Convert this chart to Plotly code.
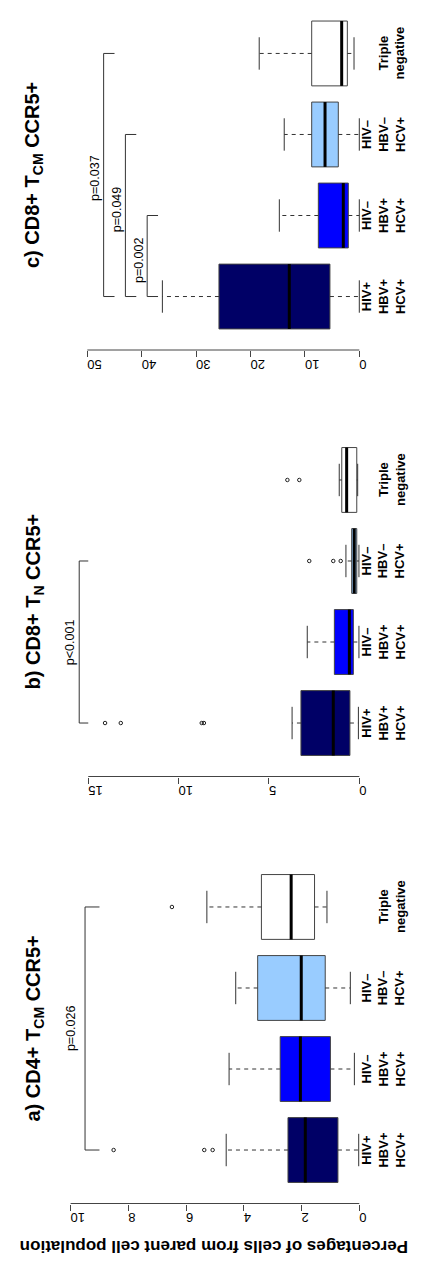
import plotly.graph_objects as go

# ---------------- data ----------------
categories = ["HIV+<br>HBV+<br>HCV+", "HIV–<br>HBV+<br>HCV+", "HIV–<br>HBV–<br>HCV+", "Triple<br>negative"]
cat_pos = [1, 2, 3, 4]
box_colors = ["#000066", "#0000FF", "#99CCFF", "#FFFFFF"]
y_axis_title = "Percentages of cells from parent cell population"

# panel a
a_title = "a) CD4+ T<sub>CM</sub> CCR5+"
a_q1 = [0.74, 1.00, 1.18, 1.55]
a_med = [1.87, 2.04, 2.01, 2.36]
a_q3 = [2.47, 2.74, 3.52, 3.39]
a_low = [0.02, 0.17, 0.31, 1.12]
a_high = [4.61, 4.51, 4.28, 5.28]
a_out_cat = [1, 1, 1, 4]
a_out_val = [5.08, 5.37, 8.51, 6.49]
a_ticks = [0, 2, 4, 6, 8, 10]
a_br_from = [1]
a_br_to = [4]
a_br_tip = [9.0]
a_br_level = [9.5]
a_p_text = ["p=0.026"]
a_p_val = [10.0]
a_p_pos = [2.5]

# panel b
b_title = "b) CD8+ T<sub>N</sub> CCR5+"
b_q1 = [0.52, 0.33, 0.14, 0.14]
b_med = [1.44, 0.55, 0.28, 0.70]
b_q3 = [3.23, 1.38, 0.42, 0.97]
b_low = [0.05, 0.02, 0.02, 0.09]
b_high = [3.72, 2.88, 0.74, 1.11]
b_out_cat = [1, 1, 1, 1, 3, 3, 3, 4, 4]
b_out_val = [14.07, 13.2, 8.72, 8.6, 2.77, 1.44, 1.03, 3.98, 3.32]
b_ticks = [0, 5, 10, 15]
b_br_from = [1]
b_br_to = [3]
b_br_tip = [15.0]
b_br_level = [15.5]
b_p_text = ["p<0.001"]
b_p_val = [16.0]
b_p_pos = [2.0]

# panel c
c_title = "c) CD8+ T<sub>CM</sub> CCR5+"
c_q1 = [5.4, 2.02, 3.86, 2.2]
c_med = [12.87, 2.94, 6.3, 3.24]
c_q3 = [25.8, 7.53, 8.75, 8.75]
c_low = [0.0, 0.0, 0.0, 0.97]
c_high = [36.2, 14.7, 13.8, 18.4]
c_out_cat = []
c_out_val = []
c_ticks = [0, 10, 20, 30, 40, 50]
c_br_from = [1, 1, 1]
c_br_to = [2, 3, 4]
c_br_tip = [37.0, 41.0, 45.0]
c_br_level = [39.0, 43.0, 47.0]
c_p_text = ["p=0.002", "p=0.049", "p=0.037"]
c_p_val = [40.5, 44.5, 48.5]
c_p_pos = [1.45, 2.08, 2.47]

# ---------------- layout helpers ----------------
# the page body has an 8px margin; positions below are page pixels
OFF = 8
W, H = 406, 1248
FONT = "Liberation Sans, Arial, sans-serif"


def px_x(px):
    return (px - OFF) / W


def px_y(py):
    return 1 - (py - OFF) / H


x_dom = [px_x(40), px_x(370)]
panels = [
    dict(title=a_title, q1=a_q1, med=a_med, q3=a_q3, low=a_low, high=a_high,
         out_cat=a_out_cat, out_val=a_out_val, ticks=a_ticks,
         br_from=a_br_from, br_to=a_br_to, br_tip=a_br_tip, br_level=a_br_level,
         p_text=a_p_text, p_val=a_p_val, p_pos=a_p_pos,
         top=853.5, bottom=1203.5, yr=[0.34, 4.66], rng=[11.06, -0.371]),
    dict(title=b_title, q1=b_q1, med=b_med, q3=b_q3, low=b_low, high=b_high,
         out_cat=b_out_cat, out_val=b_out_val, ticks=b_ticks,
         br_from=b_br_from, br_to=b_br_to, br_tip=b_br_tip, br_level=b_br_level,
         p_text=b_p_text, p_val=b_p_val, p_pos=b_p_pos,
         top=426.5, bottom=776.5, yr=[0.34, 4.66], rng=[17.67, -0.592]),
    dict(title=c_title, q1=c_q1, med=c_med, q3=c_q3, low=c_low, high=c_high,
         out_cat=c_out_cat, out_val=c_out_val, ticks=c_ticks,
         br_from=c_br_from, br_to=c_br_to, br_tip=c_br_tip, br_level=c_br_level,
         p_text=c_p_text, p_val=c_p_val, p_pos=c_p_pos,
         top=8.0, bottom=350.0, yr=[0.34, 4.561], rng=[58.7, -1.967]),
]

fig = go.Figure()
annotations = []
shapes = []
layout = {}
half_box = 0.4
half_cap = 0.2

for i, p in enumerate(panels):
    n = "" if i == 0 else str(i + 1)
    xa, ya = "x" + n, "y" + n
    # boxes
    for k, c in enumerate(cat_pos):
        fig.add_trace(go.Box(
            y=[c], q1=[p["q1"][k]], median=[p["med"][k]], q3=[p["q3"][k]],
            lowerfence=[p["q1"][k]], upperfence=[p["q3"][k]],
            orientation="h", width=2 * half_box, whiskerwidth=0,
            fillcolor=box_colors[k], line=dict(color="#444444", width=1),
            boxpoints=False, hoverinfo="skip", showlegend=False,
            xaxis=xa, yaxis=ya))
    # medians
    mx, my = [], []
    for k, c in enumerate(cat_pos):
        mx += [p["med"][k], p["med"][k], None]
        my += [c - half_box, c + half_box, None]
    fig.add_trace(go.Scatter(x=mx, y=my, mode="lines", line=dict(color="black", width=3),
                             hoverinfo="skip", showlegend=False, xaxis=xa, yaxis=ya))
    # whiskers (dashed)
    wx, wy = [], []
    for k, c in enumerate(cat_pos):
        wx += [p["q3"][k], p["high"][k], None, p["q1"][k], p["low"][k], None]
        wy += [c, c, None, c, c, None]
    fig.add_trace(go.Scatter(x=wx, y=wy, mode="lines",
                             line=dict(color="#333333", width=1, dash="4px,4px"),
                             hoverinfo="skip", showlegend=False, xaxis=xa, yaxis=ya))
    # caps
    cx, cy = [], []
    for k, c in enumerate(cat_pos):
        for v in (p["high"][k], p["low"][k]):
            cx += [v, v, None]
            cy += [c - half_cap, c + half_cap, None]
    fig.add_trace(go.Scatter(x=cx, y=cy, mode="lines", line=dict(color="#333333", width=1),
                             hoverinfo="skip", showlegend=False, xaxis=xa, yaxis=ya))
    # outliers
    if p["out_val"]:
        fig.add_trace(go.Scatter(x=p["out_val"], y=p["out_cat"], mode="markers",
                                 marker=dict(symbol="circle-open", size=3.5, color="#222222",
                                             line=dict(width=1)),
                                 hoverinfo="skip", showlegend=False, xaxis=xa, yaxis=ya))
    # brackets
    bx, by = [], []
    for j in range(len(p["br_from"])):
        f, t = p["br_from"][j], p["br_to"][j]
        bx += [p["br_tip"][j], p["br_level"][j], p["br_level"][j], p["br_tip"][j], None]
        by += [f, f, t, t, None]
    fig.add_trace(go.Scatter(x=bx, y=by, mode="lines", line=dict(color="#333333", width=1),
                             hoverinfo="skip", showlegend=False, xaxis=xa, yaxis=ya))
    # p labels
    for j, txt in enumerate(p["p_text"]):
        annotations.append(dict(x=p["p_val"][j], y=p["p_pos"][j], xref=xa, yref=ya,
                                text=txt, showarrow=False, textangle=-90,
                                font=dict(family=FONT, size=12.5, color="black")))
    # category labels
    for k, c in enumerate(cat_pos):
        annotations.append(dict(x=px_x(410), y=c, xref="paper", yref=ya, text="<b>" + categories[k] + "</b>",
                                showarrow=False, textangle=-90, xanchor="right", yanchor="middle",
                                font=dict(family=FONT, size=13, color="black")))
    # title (centred on the full plotting band of the panel)
    full_top = 0.0 if i == 2 else p["top"]
    annotations.append(dict(x=px_x(34), y=px_y((full_top + p["bottom"]) / 2), xref="paper", yref="paper",
                            text="<b>" + p["title"] + "</b>", showarrow=False, textangle=-90,
                            xanchor="center", yanchor="middle",
                            font=dict(family=FONT, size=20, color="black")))
    # axis line from 0 to last tick
    shapes.append(dict(type="line", xref=xa, yref=ya + " domain", x0=p["ticks"][0], x1=p["ticks"][-1],
                       y0=0, y1=0, line=dict(color="#444444", width=1)))
    dom = [px_y(p["bottom"]), px_y(p["top"])]
    layout["xaxis" + n] = dict(domain=x_dom, anchor=ya, range=p["rng"], showgrid=False, zeroline=False,
                               showline=False, ticks="outside", ticklen=6, tickcolor="#444444",
                               tickvals=p["ticks"], ticktext=[str(t) for t in p["ticks"]],
                               tickangle=180, automargin=False,
                               tickfont=dict(family=FONT, size=13, color="black"))
    layout["yaxis" + n] = dict(domain=dom, anchor=xa, range=p["yr"], showgrid=False, zeroline=False,
                               showline=False, showticklabels=False, ticks="", automargin=False)

annotations.append(dict(x=px_x(214), y=px_y(1247), xref="paper", yref="paper",
                        text="<b>" + y_axis_title + "</b>", showarrow=False, textangle=180,
                        xanchor="center", yanchor="middle",
                        font=dict(family=FONT, size=17, color="black")))

fig.update_layout(template="none", width=W, height=H, margin=dict(l=0, r=0, t=0, b=0, pad=0),
                  paper_bgcolor="white", plot_bgcolor="white",
                  annotations=annotations, shapes=shapes, **layout)
fig.write_html("out.html")
